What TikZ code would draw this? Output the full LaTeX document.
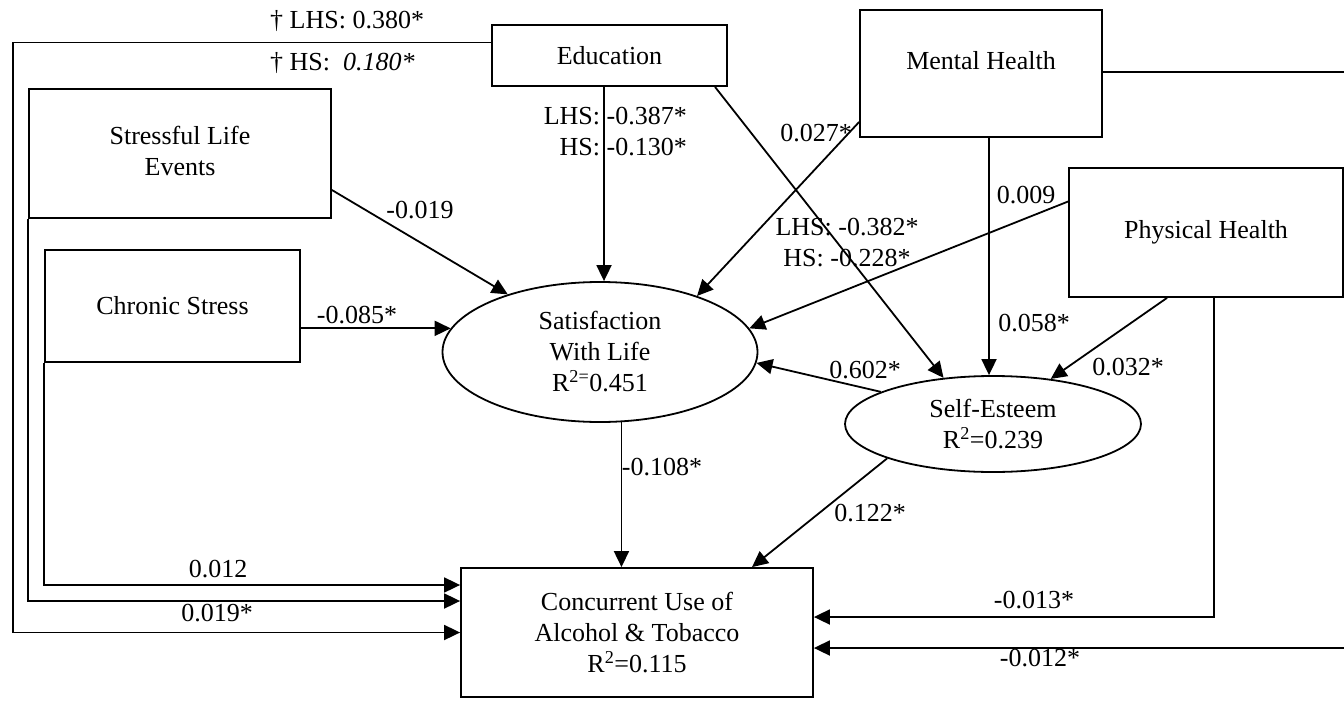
\documentclass[tikz,border=0pt]{standalone}
\usepackage{fontspec}
\setmainfont{Liberation Serif}
\usetikzlibrary{shapes.geometric,arrows.meta}

\tikzset{
  varbox/.style={draw, rectangle, line width=1.8pt, align=center, inner sep=0pt},
  latent/.style={draw, ellipse, line width=1.8pt, align=center, inner sep=0pt},
  effect/.style={line width=1.8pt, -{Triangle[length=16pt,width=15pt]}},
  coef/.style={inner sep=0pt, align=center}
}

\begin{document}
\begin{tikzpicture}[x=1pt, y=-1pt, font=\fontsize{26}{31}\selectfont]
\useasboundingbox (0,0) rectangle (1344,704);
% observed and latent variables
\node[varbox, minimum width=235pt, minimum height=61pt] (edu) at (609.5,55.5) {Education};
\node[varbox, minimum width=242pt, minimum height=127pt] (mh) at (981,73.5) {\raisebox{26pt}{Mental Health}};
\node[varbox, minimum width=274pt, minimum height=129pt] (ph) at (1206,232.5) {Physical Health};
\node[varbox, minimum width=302pt, minimum height=129pt] (sle) at (180,153.5) {\raisebox{6pt}{Stressful Life}\\\raisebox{6pt}{Events}};
\node[varbox, minimum width=255pt, minimum height=112pt] (cs) at (172.5,306) {Chronic Stress};
\node[latent, minimum width=315pt, minimum height=140pt] (sat) at (600,352) {Satisfaction\\With Life\\R\textsuperscript{2=}0.451};
\node[latent, minimum width=296pt, minimum height=96pt] (se) at (993,424) {Self-Esteem\\R\textsuperscript{2}=0.239};
\node[varbox, minimum width=352pt, minimum height=129pt] (conc) at (637,632.5) {Concurrent Use of\\Alcohol \& Tobacco\\R\textsuperscript{2}=0.115};

% paths
\draw[effect] ([xshift=-5.5pt]edu.south) -- ([xshift=-5.5pt]edu.south |- sat.north);
\draw[effect] ([xshift=105.5pt]edu.south) -- (se.137);
\draw[effect] ([yshift=-36.5pt]sle.east) -- (sat.148.5);
\draw[effect] (sat.171.6 -| cs.east) -- (sat.171.6);
\draw[effect] ([yshift=-48.5pt]mh.west) -- (sat.30);
\draw[effect] ([yshift=31pt]ph.west) -- (sat.9.5);
\draw[effect] ([xshift=8pt]mh.south) -- ([xshift=8pt]mh.south |- se.north);
\draw[effect] ([xshift=-39pt]ph.south) -- (se.38);
\draw[effect] (se.164.5) -- (sat.-4);
\draw[effect] (sat.-73.2) -- (sat.-73.2 |- conc.north);
\draw[effect] (se.198.6) -- ([xshift=115pt]conc.north);
\draw[effect] (cs.south west) |- ([yshift=47.5pt]conc.west);
\draw[effect] (sle.south west) |- ([yshift=31.5pt]conc.west);
\draw[effect] ([yshift=13pt]edu.west) -| (conc.west -| 13,0) -- (conc.west);
\draw[effect] ([xshift=8pt]ph.south) |- ([yshift=15.5pt]conc.east);
\draw[effect] ([yshift=1.5pt]mh.east) -- ([yshift=1.5pt]mh.east -| 1360,0) |- ([yshift=-15.5pt]conc.east);

% coefficients
\node[coef, anchor=west] (l-edu-top) at (270,21) {† LHS: 0.380*};
\node[coef, anchor=west] (l-edu-bot) at (270,63) {† HS:\enspace\textit{0.180*}};
\node[coef, align=right, anchor=east] (l-edu-sat) at (687,132) {LHS: -0.387*\\HS: -0.130*};
\node[coef] (l-edu-se) at (847,243) {LHS: -0.382*\\HS: -0.228*};
\node[coef] (l-mh-sat) at (816,133) {0.027*};
\node[coef] (l-ph-sat) at (1026,195) {0.009};
\node[coef] (l-mh-se) at (1034,323) {0.058*};
\node[coef] (l-ph-se) at (1128,367) {0.032*};
\node[coef] (l-se-sat) at (865,370) {0.602*};
\node[coef] (l-sle) at (420,210) {-0.019};
\node[coef] (l-cs) at (357,315) {-0.085*};
\node[coef] (l-sat-conc) at (662,467) {-0.108*};
\node[coef] (l-se-conc) at (870,513) {0.122*};
\node[coef] (l-cs-conc) at (218,569) {0.012};
\node[coef] (l-sle-conc) at (217,613) {0.019*};
\node[coef] (l-ph-conc) at (1034,600) {-0.013*};
\node[coef] (l-mh-conc) at (1040,658) {-0.012*};
\end{tikzpicture}
\end{document}
